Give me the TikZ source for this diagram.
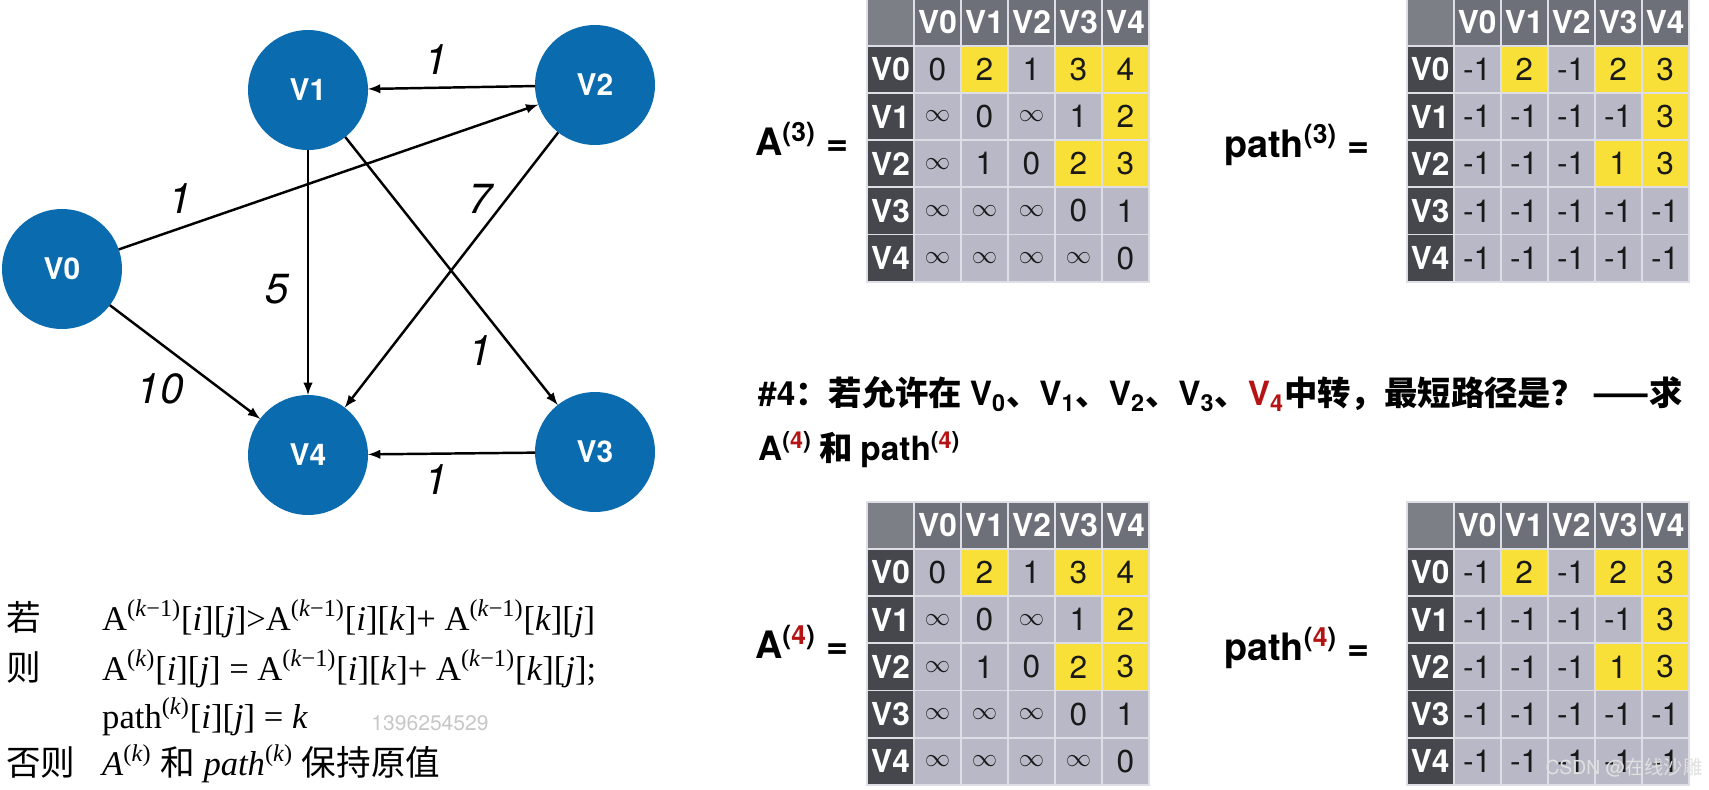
\documentclass[tikz,border=0pt]{standalone}
\usepackage{fontspec}
\usepackage{xcolor}
\usetikzlibrary{arrows}
\setmainfont{Liberation Serif}
\setsansfont{TeX Gyre Heros}
\newfontfamily\cjk{Noto Sans CJK SC}
\newcommand{\zh}[1]{{\cjk #1}}
\newcommand{\setpt}[1]{\fontsize{#1}{#1}\selectfont}
\newcommand{\unreach}{{\setpt{15}$\infty$}}
\definecolor{nodeblue}{RGB}{10,108,175}
\definecolor{headgray}{RGB}{110,112,121}
\definecolor{cornergray}{RGB}{125,127,135}
\definecolor{rowgray}{RGB}{70,71,77}
\definecolor{ce}{RGB}{185,184,198}
\definecolor{hi}{RGB}{248,224,56}
\definecolor{gridline}{RGB}{222,222,230}
\definecolor{darkred}{RGB}{180,20,20}

\newcommand{\distmatrix}[3]{%
  \begin{scope}[shift={#1}]
    \node[corner] (#2-c) at (23.5,23.6) {};
    \foreach \ci in {0,...,4}
      \node[colhead] (#2-h\ci) at ({70.5+47*\ci},23.6) {V\ci};
    \foreach \row [count=\ri from 0] in {#3} {
      \node[rowhead] (#2-r\ri) at (23.5,{70.8+47.2*\ri}) {V\ri};
      \foreach \val/\col [count=\ci from 0] in \row
        \node[cell, fill=\col] (#2-\ri\ci) at ({70.5+47*\ci},{70.8+47.2*\ri}) {\val};
    }
  \end{scope}}

\begin{document}
\begin{tikzpicture}[x=0.02cm, y=-0.02cm,
  vertex/.style={circle, fill=nodeblue, minimum size=2.4cm, inner sep=0pt, outer sep=0pt, text=white, font=\sffamily\bfseries\setpt{17}},
  link/.style={->, >=latex, line width=1.4pt},
  weight/.style={font=\sffamily\itshape\setpt{24}},
  cell/.style={rectangle, draw=gridline, line width=1pt, minimum width=0.94cm, minimum height=0.944cm, inner sep=0pt, font=\sffamily\setpt{18}, text=black!90},
  colhead/.style={cell, fill=headgray, text=white, font=\sffamily\bfseries\setpt{18}},
  rowhead/.style={colhead, fill=rowgray},
  corner/.style={cell, fill=cornergray},
  eqlabel/.style={anchor=base west, font=\sffamily\bfseries\setpt{21.5}},
  heading/.style={anchor=base west, font=\sffamily\bfseries\setpt{19}},
  formula/.style={anchor=base west, font=\setpt{19.7}},
  wm/.style={font=\sffamily\setpt{12}, text=black!22}]
\useasboundingbox (0,0) rectangle (1709,789);

% graph
\node[vertex] (v0) at (62,269) {V0};
\node[vertex] (v1) at (308,90) {V1};
\node[vertex] (v2) at (595,85) {V2};
\node[vertex] (v3) at (595,452) {V3};
\node[vertex] (v4) at (308,455) {V4};

\draw[link] (v2) -- (v1);
\draw[link] (v0) -- (v2);
\draw[link] (v1) -- (v4);
\draw[link] (v1) -- (v3);
\draw[link] (v2) -- (v4);
\draw[link] (v0) -- (v4);
\draw[link] (v3) -- (v4);

\node[weight] (w21) at (436,60) {1};
\node[weight] (w02) at (180,199) {1};
\node[weight] (w24) at (480,199) {7};
\node[weight] (w14) at (277,289) {5};
\node[weight] (w13) at (480,351) {1};
\node[weight] (w04) at (160,389) {10};
\node[weight] (w34) at (436,480) {1};

% rule
\node[formula] (k1) at (0,630) {\zh{若}};
\node[formula] (f1) at (96,630) {A\textsuperscript{(\textit{k}−1)}[\textit{i}][\textit{j}]>A\textsuperscript{(\textit{k}−1)}[\textit{i}][\textit{k}]+ A\textsuperscript{(\textit{k}−1)}[\textit{k}][\textit{j}]};
\node[formula] (k2) at (0,680) {\zh{则}};
\node[formula] (f2) at (96,680) {A\textsuperscript{(\textit{k})}[\textit{i}][\textit{j}] = A\textsuperscript{(\textit{k}−1)}[\textit{i}][\textit{k}]+ A\textsuperscript{(\textit{k}−1)}[\textit{k}][\textit{j}];};
\node[formula] (f3) at (96,728) {path\textsuperscript{(\textit{k})}[\textit{i}][\textit{j}] = \textit{k}};
\node[formula] (k4) at (0,775) {\zh{否则}};
\node[formula] (f4) at (96,775) {\textit{A}\textsuperscript{(\textit{k})} \zh{和} \textit{path}\textsuperscript{(\textit{k})} \zh{保持原值}};
\node[wm] (wm1) at (430,723) {1396254529};

% matrices
\node[eqlabel] (la3) at (749,155) {A\textsuperscript{(3)} =};
\node[eqlabel] (lp3) at (1218,157) {path\textsuperscript{(3)} =};
\distmatrix{(867,-1.5)}{a3}{{0/ce,2/hi,1/ce,3/hi,4/hi},{\unreach/ce,0/ce,\unreach/ce,1/ce,2/hi},{\unreach/ce,1/ce,0/ce,2/hi,3/hi},{\unreach/ce,\unreach/ce,\unreach/ce,0/ce,1/ce},{\unreach/ce,\unreach/ce,\unreach/ce,\unreach/ce,0/ce}}
\distmatrix{(1406.7,-1.5)}{p3}{{-1/ce,2/hi,-1/ce,2/hi,3/hi},{-1/ce,-1/ce,-1/ce,-1/ce,3/hi},{-1/ce,-1/ce,-1/ce,1/hi,3/hi},{-1/ce,-1/ce,-1/ce,-1/ce,-1/ce},{-1/ce,-1/ce,-1/ce,-1/ce,-1/ce}}

\node[heading] (h1) at (752,405) {\#4\zh{：若允许在 }V\textsubscript{0}\zh{、}V\textsubscript{1}\zh{、}V\textsubscript{2}\zh{、}V\textsubscript{3}\zh{、}\textcolor{darkred}{V\textsubscript{4}}\zh{中转，最短路径是？ ——求}};
\node[heading] (h2) at (752,460) {A\textsuperscript{(\textcolor{darkred}{4})}\zh{ 和 }path\textsuperscript{(\textcolor{darkred}{4})}};

\node[eqlabel] (la4) at (749,658) {A\textsuperscript{(\textcolor{darkred}{4})} =};
\node[eqlabel] (lp4) at (1218,660) {path\textsuperscript{(\textcolor{darkred}{4})} =};
\distmatrix{(867,501.7)}{a4}{{0/ce,2/hi,1/ce,3/hi,4/hi},{\unreach/ce,0/ce,\unreach/ce,1/ce,2/hi},{\unreach/ce,1/ce,0/ce,2/hi,3/hi},{\unreach/ce,\unreach/ce,\unreach/ce,0/ce,1/ce},{\unreach/ce,\unreach/ce,\unreach/ce,\unreach/ce,0/ce}}
\distmatrix{(1406.7,501.7)}{p4}{{-1/ce,2/hi,-1/ce,2/hi,3/hi},{-1/ce,-1/ce,-1/ce,-1/ce,3/hi},{-1/ce,-1/ce,-1/ce,1/hi,3/hi},{-1/ce,-1/ce,-1/ce,-1/ce,-1/ce},{-1/ce,-1/ce,-1/ce,-1/ce,-1/ce}}

\node[wm, text=white!88!black, font=\sffamily\setpt{11}] (wm2) at (1624,768) {CSDN @\zh{在线沙雕}};
\end{tikzpicture}
\end{document}
